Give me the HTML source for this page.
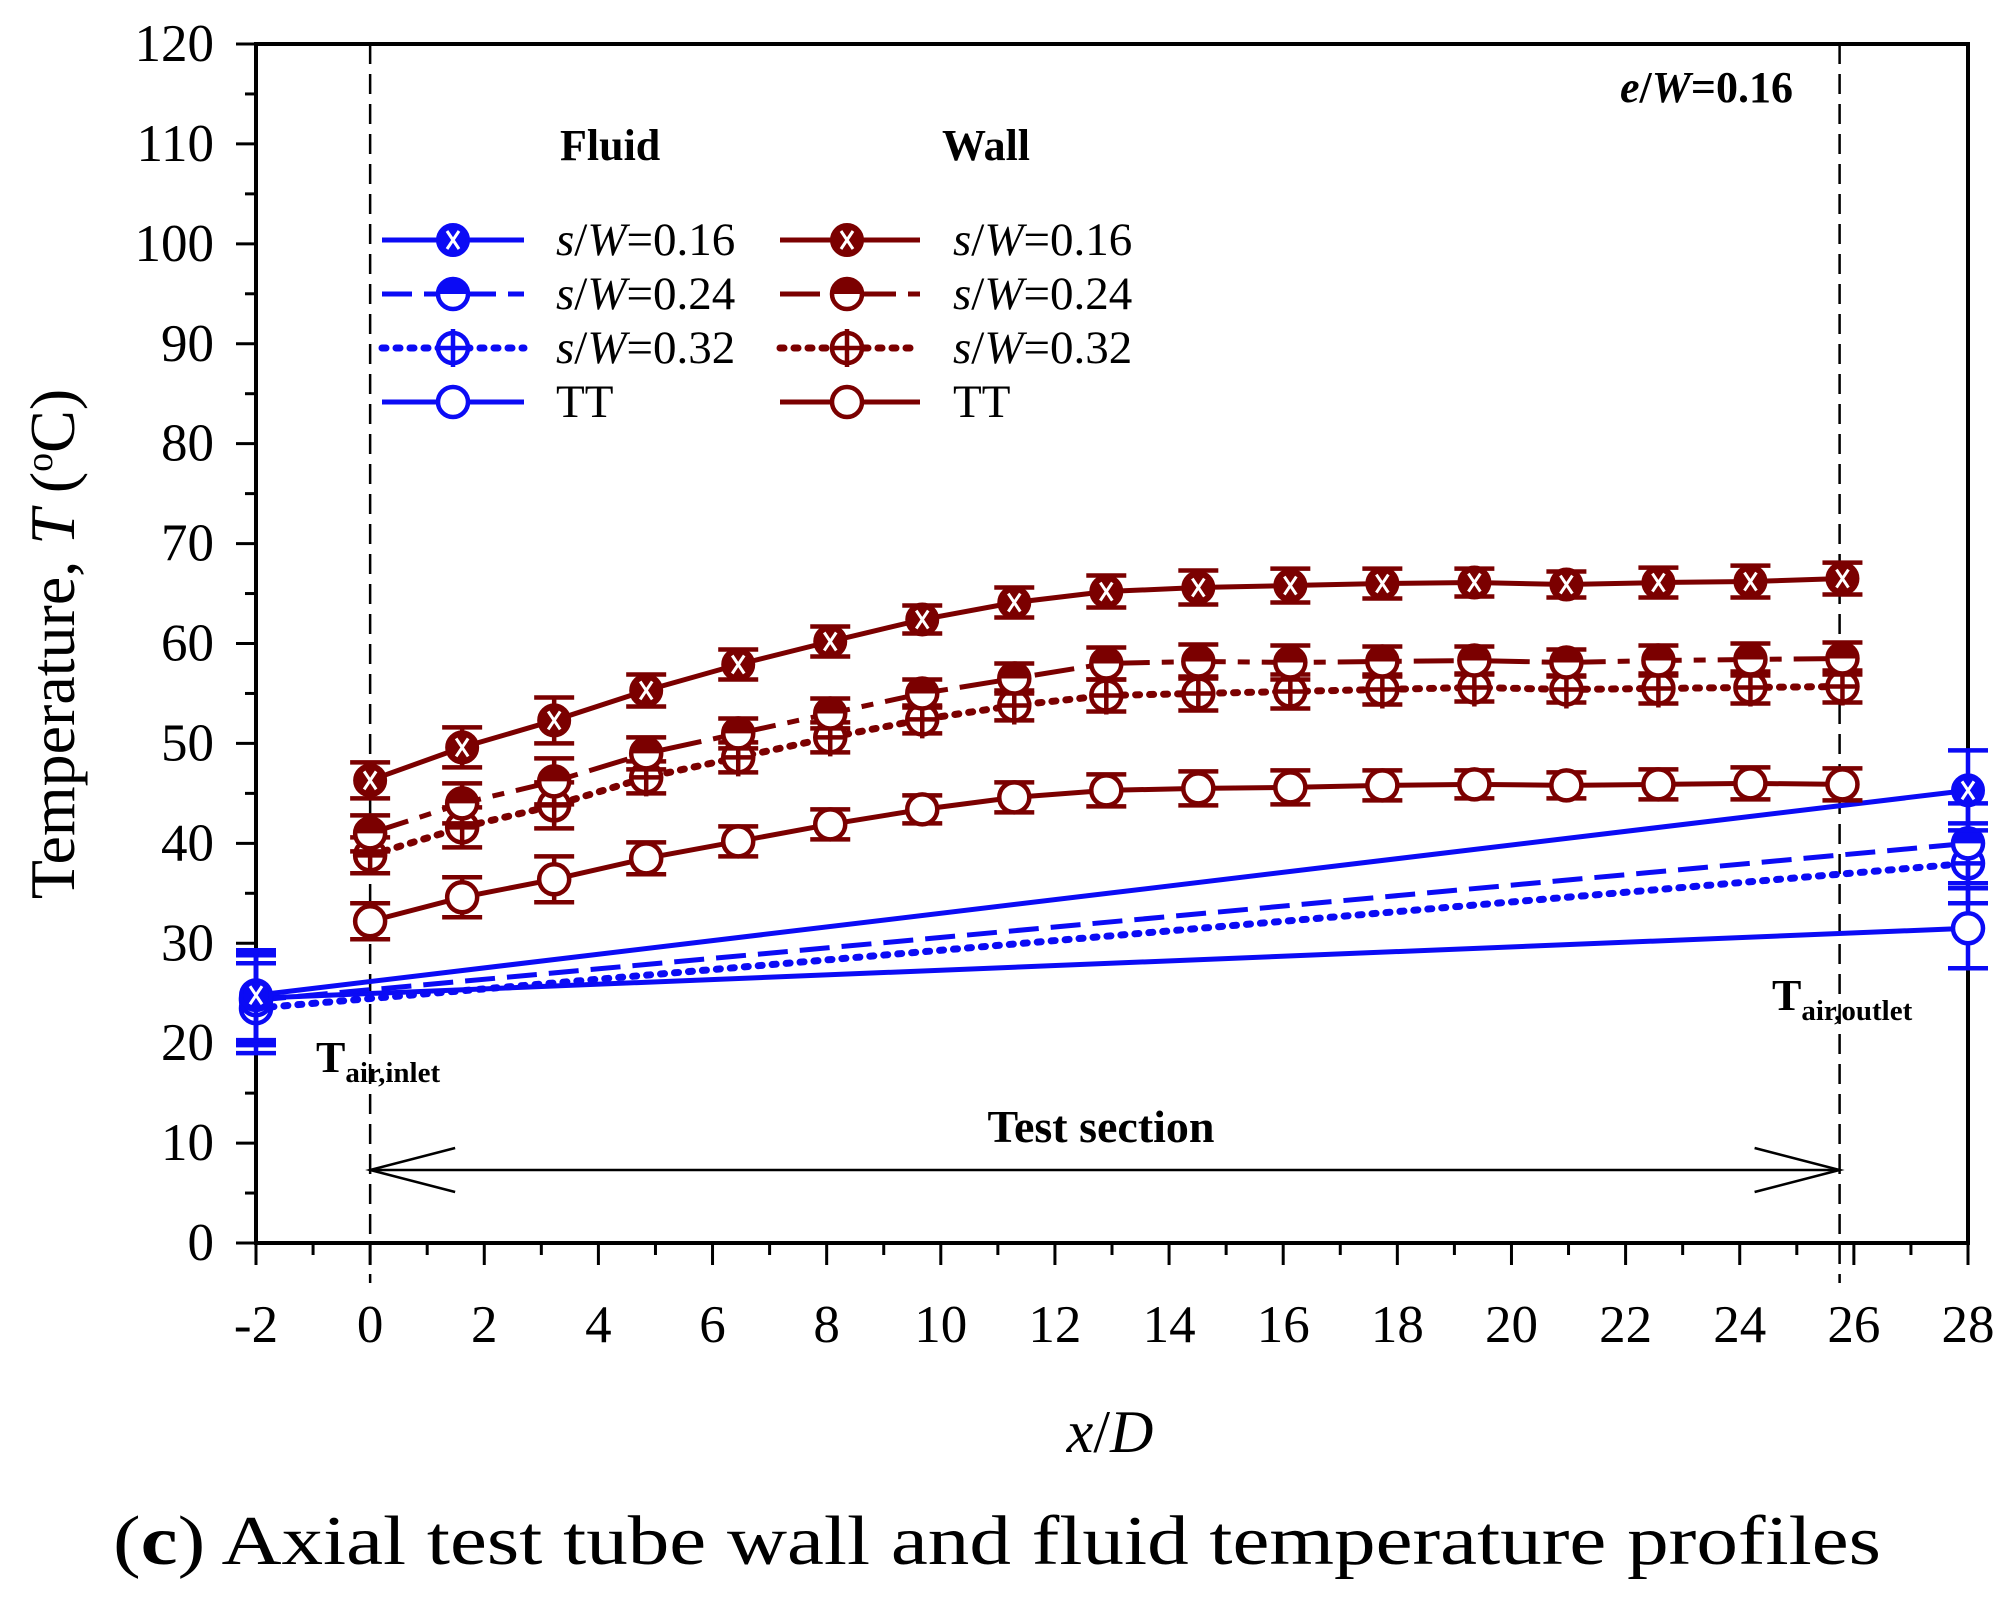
<!DOCTYPE html>
<html><head><meta charset="utf-8"><style>
html,body{margin:0;padding:0;background:#fff}
svg{display:block}
text{font-family:"Liberation Serif",serif}
</style></head><body>
<svg id="chart" width="2013" height="1608" viewBox="0 0 2013 1608" xmlns="http://www.w3.org/2000/svg"></svg>
<script>
const wallX = [0,1.6125,3.225,4.8375,6.45,8.0625,9.675,11.2875,12.9,14.5125,16.125,17.7375,19.35,20.9625,22.575,24.1875,25.8];
const wall016 = [46.3,49.6,52.3,55.3,57.9,60.2,62.4,64.1,65.2,65.6,65.8,66.0,66.1,65.9,66.1,66.2,66.5];
const wall024 = [41.0,44.0,46.2,49.0,51.0,53.0,55.0,56.5,58.0,58.2,58.1,58.2,58.3,58.1,58.3,58.4,58.5];
const wall032 = [38.8,41.6,43.8,46.6,48.6,50.6,52.4,53.8,54.8,55.0,55.2,55.4,55.6,55.4,55.5,55.6,55.7];
const wallTT  = [32.2,34.6,36.4,38.5,40.2,41.9,43.4,44.6,45.3,45.5,45.6,45.8,45.9,45.8,45.9,46.0,45.9];
const wallErr = [1.8,2.0,2.3,1.6,1.5,1.5,1.4,1.5,1.6,1.7,1.7,1.5,1.4,1.3,1.5,1.6,1.6];
const fluidX = [-2,28];
const fluid016 = [24.8,45.3];
const fluid024 = [24.3,40.0];
const fluid032 = [23.5,38.0];
const fluidTT  = [24.5,31.5];
const fluidErr = [4.5,4.0];
const xTicks = [-2,0,2,4,6,8,10,12,14,16,18,20,22,24,26,28];
const yTicks = [0,10,20,30,40,50,60,70,80,90,100,110,120];

const svg = document.getElementById('chart');
const NS = 'http://www.w3.org/2000/svg';
const L=256,R=1968,T=44,B=1243;
const sx = v => L + (v+2)/30*(R-L);
const sy = v => B - v/120*(B-T);
function el(tag, attrs, parent){const e=document.createElementNS(NS,tag);for(const k in attrs)e.setAttribute(k,attrs[k]);(parent||svg).appendChild(e);return e;}
function txt(x,y,s,attrs){const e=el('text',Object.assign({x:x,y:y},attrs||{}));e.innerHTML=s;return e;}

const box = el('rect',{x:L,y:T,width:R-L,height:B-T,fill:'none',stroke:'#000','stroke-width':4});


for(let v=0;v<=120;v+=5){
  const major=v%10===0;
  const t=el('line',{x1:L-(major?20:11),x2:L,y1:sy(v),y2:sy(v),stroke:'#000','stroke-width':3});
  
  
}
yTicks.forEach(v=>{
  const t=txt(214,sy(v)+17,String(v),{'font-size':53,'text-anchor':'end'});
  
  
});
for(let v=-2;v<=28;v+=1){
  const major=v%2===0;
  const t=el('line',{x1:sx(v),x2:sx(v),y1:B,y2:B+(major?22:12),stroke:'#000','stroke-width':3});
  
  
}
xTicks.forEach(v=>{
  const t=txt(sx(v),1342,String(v),{'font-size':53,'text-anchor':'middle'});
  
  
});
[0,25.75].forEach(v=>{
  const d=el('line',{x1:sx(v),x2:sx(v),y1:T,y2:B+40,stroke:'#000','stroke-width':2.5,'stroke-dasharray':'20,10'});
  
  
});
const ar=el('g',{stroke:'#000','stroke-width':2.5,fill:'none'});


el('line',{x1:sx(0),x2:sx(25.75),y1:1170,y2:1170},ar);
el('polyline',{points:`${sx(0)+85},1148 ${sx(0)},1170 ${sx(0)+85},1192`},ar);
el('polyline',{points:`${sx(25.75)-85},1148 ${sx(25.75)},1170 ${sx(25.75)-85},1192`},ar);

const BLUE='#0b0bf5', RED='#7b0000';
const dashes={s016:null,s024:'30,12',s032:'4,10',TT:null};
const wallDash='40,12,12,12';
function marker(g,x,y,kind,color){
  const r=15;
  if(kind==='s016'){
    el('circle',{cx:x,cy:y,r:r,fill:color,stroke:color,'stroke-width':4},g);
    el('path',{d:`M${x-6},${y-9}L${x+6},${y+9}M${x+6},${y-9}L${x-6},${y+9}`,stroke:'#fff','stroke-width':3},g);
  } else if(kind==='s024'){
    el('circle',{cx:x,cy:y,r:r,fill:'#fff',stroke:color,'stroke-width':4.5},g);
    el('path',{d:`M${x-r},${y} A${r},${r} 0 0 1 ${x+r},${y} Z`,fill:color},g);
  } else if(kind==='s032'){
    el('circle',{cx:x,cy:y,r:r,fill:'#fff',stroke:color,'stroke-width':4.5},g);
    el('path',{d:`M${x-r},${y}H${x+r}M${x},${y-r-4}V${y+r+4}`,stroke:color,'stroke-width':4.5},g);
  } else {
    el('circle',{cx:x,cy:y,r:r,fill:'#fff',stroke:color,'stroke-width':4.5},g);
  }
}
function series(name,xs,ys,errs,kind,color,cap,dash){
  const g=el('g',{});
  
  
  const pts=xs.map((x,i)=>sx(x)+','+sy(ys[i])).join(' ');
  const a={points:pts,fill:'none',stroke:color,'stroke-width':kind==='s032'?7:5};
  if(dash)a['stroke-dasharray']=dash;
  if(kind==='s032')a['stroke-linecap']='round';
  el('polyline',a,g);
  xs.forEach((x,i)=>{
    const X=sx(x),y1=sy(ys[i]+errs[i]),y2=sy(ys[i]-errs[i]);
    el('path',{d:`M${X},${y1}V${y2}M${X-cap},${y1}H${X+cap}M${X-cap},${y2}H${X+cap}`,stroke:color,'stroke-width':4.5},g);
    marker(g,X,sy(ys[i]),kind,color);
  });
}
series('fluid-tt',fluidX,fluidTT,fluidErr,'TT',BLUE,20,null);
series('fluid-s032',fluidX,fluid032,fluidErr,'s032',BLUE,20,dashes.s032);
series('fluid-s024',fluidX,fluid024,fluidErr,'s024',BLUE,20,dashes.s024);
series('fluid-s016',fluidX,fluid016,fluidErr,'s016',BLUE,20,null);
series('wall-tt',wallX,wallTT,wallErr,'TT',RED,20,null);
series('wall-s032',wallX,wall032,wallErr,'s032',RED,20,dashes.s032);
series('wall-s024',wallX,wall024,wallErr,'s024',RED,20,wallDash);
series('wall-s016',wallX,wall016,wallErr,'s016',RED,20,null);

const labels=['<tspan font-style="italic">s</tspan>/<tspan font-style="italic">W</tspan>=0.16','<tspan font-style="italic">s</tspan>/<tspan font-style="italic">W</tspan>=0.24','<tspan font-style="italic">s</tspan>/<tspan font-style="italic">W</tspan>=0.32','TT'];
const kinds=['s016','s024','s032','TT'];
[[382,524,453,556,BLUE,false],[780,920,847,953,RED,true]].forEach(c=>{
  kinds.forEach((k,i)=>{
    const y=240+i*54;
    const e=el('g',{});
    
    
    const a={x1:c[0],x2:c[1],y1:y,y2:y,stroke:c[4],'stroke-width':k==='s032'?7:5};
    const d=(k==='s024'&&c[5])?wallDash:dashes[k];
    if(d)a['stroke-dasharray']=d;
    if(k==='s032')a['stroke-linecap']='round';
    el('line',a,e);
    marker(e,c[2],y,k,c[4]);
    const t=el('text',{x:c[3],y:y+15,'font-size':47},e);
    t.innerHTML=labels[i];
  });
});
const f=txt(560,160,'Fluid',{'font-size':44,'font-weight':'bold'});


const w=txt(942,160,'Wall',{'font-size':44,'font-weight':'bold'});



const ew=txt(1620,102,'<tspan font-style="italic">e</tspan>/<tspan font-style="italic">W</tspan>=0.16',{'font-size':44,'font-weight':'bold'});


const ti=txt(316,1072,'T<tspan font-size="29" dy="10">air,inlet</tspan>',{'font-size':44,'font-weight':'bold'});


const to=txt(1772,1010,'T<tspan font-size="29" dy="10">air,outlet</tspan>',{'font-size':44,'font-weight':'bold'});


const ts=txt(1101,1142,'Test section',{'font-size':46,'font-weight':'bold','text-anchor':'middle'});


const xl=txt(1110,1452,'<tspan font-style="italic">x</tspan>/<tspan font-style="italic">D</tspan>',{'font-size':60,'text-anchor':'middle'});


const yl=txt(0,0,'Temperature, <tspan font-style="italic">T</tspan> (<tspan font-size="38" dy="-22">o</tspan><tspan dy="22">C)</tspan>',{'font-size':64,'text-anchor':'middle',transform:'translate(74,644) rotate(-90)'});


const cap=txt(113,1564,'(<tspan font-weight="bold">c</tspan>) Axial test tube wall and fluid temperature profiles',{'font-size':70,textLength:1768,lengthAdjust:'spacingAndGlyphs'});


</script>
</body></html>
